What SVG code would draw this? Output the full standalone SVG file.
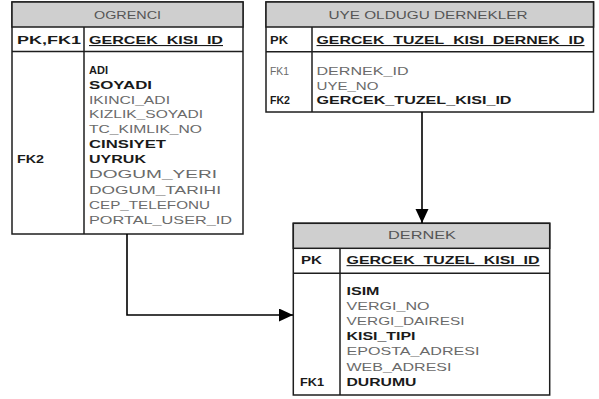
<svg xmlns="http://www.w3.org/2000/svg" width="599" height="399" viewBox="0 0 599 399">
<style>
text{font-family:"Liberation Sans",Arial,sans-serif;font-size:11px}
.box{fill:#fff;stroke:#1e1e1e;stroke-width:1.5}
.hd{fill:#cfcfcf;stroke:#1e1e1e;stroke-width:1.5}
.ln{stroke:#1e1e1e;stroke-width:1.5;fill:none}
.ht{fill:#555;text-anchor:middle}
.k{fill:#1a1a1a;font-weight:bold}
.pk{fill:#1a1a1a;font-weight:bold;text-decoration:underline}
.b{fill:#1a1a1a;font-weight:bold}
.n{fill:#6a6a6a}
.c{stroke:#000;stroke-width:1.6;fill:none}
</style>
<defs>
<marker id="arr" markerUnits="userSpaceOnUse" markerWidth="15" markerHeight="14" refX="14" refY="6.5" orient="auto">
<path d="M0,0 L14,6.5 L0,13 z" fill="#000"/>
</marker>
</defs>
<g id="ogrenci">
<rect class="box" x="12" y="2" width="231" height="232"/>
<rect class="hd" x="12" y="2" width="231" height="25"/>
<line class="ln" x1="12" y1="51.5" x2="243" y2="51.5"/>
<line class="ln" x1="84" y1="27" x2="84" y2="234"/>
<text class="ht" x="127.5" y="19" textLength="67" lengthAdjust="spacingAndGlyphs">OGRENCI</text>
<text class="k" x="17" y="44" textLength="64" lengthAdjust="spacingAndGlyphs">PK,FK1</text>
<text class="pk" x="89" y="44" textLength="134" lengthAdjust="spacingAndGlyphs">GERCEK_KISI_ID</text>
<text class="k" x="17" y="163.2" textLength="27" lengthAdjust="spacingAndGlyphs">FK2</text>
<text class="b" x="89" y="74">ADI</text>
<text class="b" x="89" y="89" textLength="63" lengthAdjust="spacingAndGlyphs">SOYADI</text>
<text class="n" x="89" y="103.5" textLength="81" lengthAdjust="spacingAndGlyphs">IKINCI_ADI</text>
<text class="n" x="89" y="118" textLength="114" lengthAdjust="spacingAndGlyphs">KIZLIK_SOYADI</text>
<text class="n" x="89" y="132.5" textLength="113" lengthAdjust="spacingAndGlyphs">TC_KIMLIK_NO</text>
<text class="b" x="89" y="148.2" textLength="77" lengthAdjust="spacingAndGlyphs">CINSIYET</text>
<text class="b" x="89" y="163.2" textLength="57" lengthAdjust="spacingAndGlyphs">UYRUK</text>
<text class="n" x="89" y="178.2" textLength="128" lengthAdjust="spacingAndGlyphs">DOGUM_YERI</text>
<text class="n" x="89" y="193.7" textLength="132" lengthAdjust="spacingAndGlyphs">DOGUM_TARIHI</text>
<text class="n" x="89" y="208.8" textLength="121" lengthAdjust="spacingAndGlyphs">CEP_TELEFONU</text>
<text class="n" x="89" y="223.9" textLength="143" lengthAdjust="spacingAndGlyphs">PORTAL_USER_ID</text>
</g>
<g id="uye_oldugu_dernekler">
<rect class="box" x="266" y="2" width="327.5" height="110"/>
<rect class="hd" x="266" y="2" width="327.5" height="25"/>
<line class="ln" x1="266" y1="51.7" x2="593.5" y2="51.7"/>
<line class="ln" x1="312" y1="27" x2="312" y2="112"/>
<text class="ht" x="428" y="19" textLength="199" lengthAdjust="spacingAndGlyphs">UYE OLDUGU DERNEKLER</text>
<text class="k" x="270" y="44" textLength="18" lengthAdjust="spacingAndGlyphs">PK</text>
<text class="pk" x="316.5" y="44" textLength="268" lengthAdjust="spacingAndGlyphs">GERCEK_TUZEL_KISI_DERNEK_ID</text>
<text class="n" x="270" y="74.5" textLength="19" lengthAdjust="spacingAndGlyphs">FK1</text>
<text class="n" x="316.5" y="74.5" textLength="92" lengthAdjust="spacingAndGlyphs">DERNEK_ID</text>
<text class="n" x="316.5" y="89.5" textLength="62" lengthAdjust="spacingAndGlyphs">UYE_NO</text>
<text class="k" x="270" y="104" textLength="20" lengthAdjust="spacingAndGlyphs">FK2</text>
<text class="b" x="316.5" y="104" textLength="195" lengthAdjust="spacingAndGlyphs">GERCEK_TUZEL_KISI_ID</text>
</g>
<g id="dernek">
<rect class="box" x="293.3" y="223.3" width="256.4" height="171.7"/>
<rect class="hd" x="293.3" y="223.3" width="256.4" height="25"/>
<line class="ln" x1="293.3" y1="273.3" x2="549.7" y2="273.3"/>
<line class="ln" x1="340" y1="248.3" x2="340" y2="395"/>
<text class="ht" x="422" y="239.1" textLength="68" lengthAdjust="spacingAndGlyphs">DERNEK</text>
<text class="k" x="301" y="264.1" textLength="21" lengthAdjust="spacingAndGlyphs">PK</text>
<text class="pk" x="346.5" y="264.1" textLength="193" lengthAdjust="spacingAndGlyphs">GERCEK_TUZEL_KISI_ID</text>
<text class="b" x="346.5" y="294.5" textLength="33" lengthAdjust="spacingAndGlyphs">ISIM</text>
<text class="n" x="346.5" y="309.7" textLength="83" lengthAdjust="spacingAndGlyphs">VERGI_NO</text>
<text class="n" x="346.5" y="324.9" textLength="118" lengthAdjust="spacingAndGlyphs">VERGI_DAIRESI</text>
<text class="b" x="346.5" y="340.1" textLength="69" lengthAdjust="spacingAndGlyphs">KISI_TIPI</text>
<text class="n" x="346.5" y="355.3" textLength="133" lengthAdjust="spacingAndGlyphs">EPOSTA_ADRESI</text>
<text class="n" x="346.5" y="370.5" textLength="105" lengthAdjust="spacingAndGlyphs">WEB_ADRESI</text>
<text class="k" x="300" y="385.9" textLength="24" lengthAdjust="spacingAndGlyphs">FK1</text>
<text class="b" x="346.5" y="385.9" textLength="70" lengthAdjust="spacingAndGlyphs">DURUMU</text>
</g>
<g id="connectors">
<polyline class="c" points="422,112 422,223" marker-end="url(#arr)"/>
<polyline class="c" points="127,234 127,315 293,315" marker-end="url(#arr)"/>
</g>
</svg>
